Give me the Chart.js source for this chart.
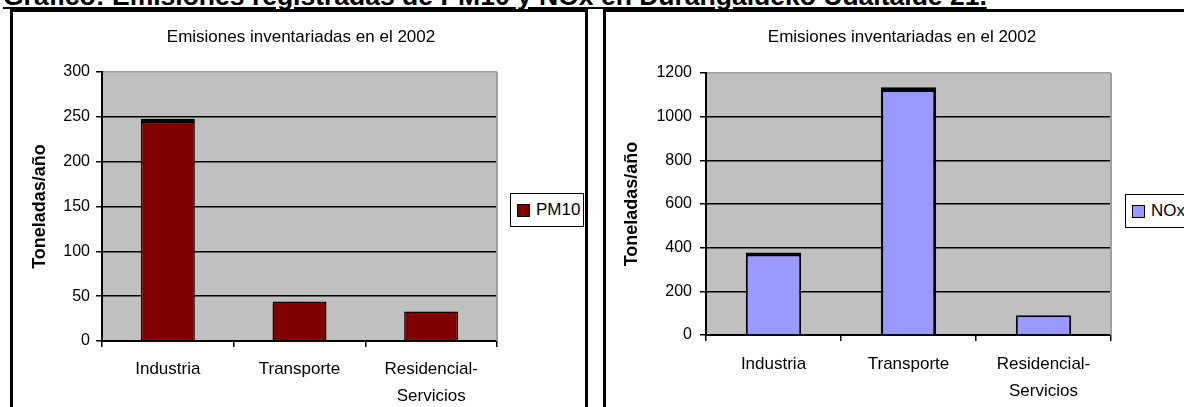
<!DOCTYPE html>
<html>
<head>
<meta charset="utf-8">
<script src="https://cdn.jsdelivr.net/npm/chart.js"></script>
<style>
  body { margin: 0; width: 1184px; height: 407px; overflow: hidden; background: #fff; position: relative;
         font-family: "Liberation Sans", Arial, sans-serif; color: #000; }
  .box { position: absolute; top: 9px; height: 500px; border: 3px solid #000; background: #fff; }
  #boxPm { left: 10px; width: 572px; }
  #boxNox { left: 603px; width: 600px; }
  .box canvas { position: absolute; left: 0; top: 0; }
  #heading { position: absolute; left: 3px; top: -17px; z-index: 3; font-size: 26.5px; font-weight: bold;
             line-height: 26px; text-decoration: underline; white-space: nowrap; }
  .ctitle { position: absolute; top: 27px; font-size: 17px; line-height: 20px; white-space: nowrap;
            transform: translateX(-50%); z-index: 2; }
  .legend { position: absolute; height: 32px; border: 1px solid #000; background: #fff; z-index: 2;
            display: flex; align-items: center; font-size: 17px; white-space: nowrap; }
  .legend .sw { width: 11px; height: 11px; border: 1px solid #000; margin: 0 6px 0 6px; }
</style>
</head>
<body>
<div id="boxPm" class="box"><canvas id="pm10-chart" width="572" height="395"></canvas></div>
<div id="boxNox" class="box"><canvas id="nox-chart" width="578" height="395"></canvas></div>
<div id="heading">Gráfico: Emisiones registradas de PM10 y NOx en Durangaldeko Udaltalde 21.</div>
<div class="ctitle" style="left:301px">Emisiones inventariadas en el 2002</div>
<div class="ctitle" style="left:902px">Emisiones inventariadas en el 2002</div>
<div id="legend-pm10" class="legend" style="left:510px; top:193px; width:72px;"></div>
<div id="legend-nox" class="legend" style="left:1125px; top:194px; width:80px;"></div>

<script>
// datos
const categories = [['Industria'], ['Transporte'], ['Residencial-', 'Servicios']];
const pm10Values = [248, 44, 33];
const noxValues = [378, 1135, 90];
const pm10Ticks = [0, 50, 100, 150, 200, 250, 300];
const noxTicks = [0, 200, 400, 600, 800, 1000, 1200];
const yTitle = 'Toneladas/año';

const plotBackground = {
    id: 'plotBackground',
    beforeDraw(chart) {
        const a = chart.chartArea;
        const ctx = chart.ctx;
        ctx.save();
        ctx.fillStyle = '#c0c0c0';
        ctx.fillRect(a.left, a.top, a.right - a.left, a.bottom - a.top);
        ctx.restore();
    },
    beforeDatasetsDraw(chart) {
        const a = chart.chartArea;
        const ctx = chart.ctx;
        ctx.save();
        ctx.strokeStyle = '#a0a0a0';
        ctx.lineWidth = 2;
        ctx.beginPath();
        ctx.moveTo(a.right, a.top);
        ctx.lineTo(a.right, a.bottom);
        ctx.stroke();
        ctx.restore();
    }
};

function makeLegend(id, label, color) {
    const box = document.getElementById(id);
    const sw = document.createElement('span');
    sw.className = 'sw';
    sw.style.background = color;
    box.appendChild(sw);
    box.appendChild(document.createTextNode(label));
}

function makeChart(id, label, values, color, borders, ticks, g) {
    const max = ticks[ticks.length - 1];
    const ctx = document.getElementById(id).getContext('2d');
    return new Chart(ctx, {
        type: 'bar',
        data: {
            labels: categories,
            datasets: [{
                label: label,
                data: values,
                backgroundColor: color,
                borderColor: '#000',
                borderWidth: borders,
                borderSkipped: 'start',
                barPercentage: 0.41,
                categoryPercentage: 1
            }]
        },
        options: {
            responsive: false,
            animation: false,
            layout: { padding: { top: g.top, right: g.right, left: 0, bottom: 0 } },
            plugins: { legend: { display: false }, tooltip: { enabled: false } },
            scales: {
                x: {
                    grid: { drawOnChartArea: false, offset: true, tickLength: 6, color: '#000', lineWidth: 1.5 },
                    border: { color: '#000', width: 2 },
                    ticks: { color: '#000', font: { size: 17, lineHeight: 1.6 }, padding: g.xPad,
                             maxRotation: 0, autoSkip: false },
                    afterFit: (s) => { s.height = g.xHeight; }
                },
                y: {
                    min: 0,
                    max: max,
                    afterBuildTicks: (s) => { s.ticks = ticks.map(v => ({ value: v })); },
                    grid: {
                        color: (c) => (c.tick && c.tick.value === max) ? '#a0a0a0' : '#000',
                        tickColor: '#000',
                        lineWidth: 1.5,
                        tickLength: 6
                    },
                    border: { color: '#000', width: 2 },
                    ticks: { color: '#000', font: { size: 16 }, padding: g.yPad,
                             callback: (v) => String(v) },
                    title: { display: true, text: yTitle, color: '#000',
                             font: { size: 18, weight: 'bold' }, padding: { top: g.titlePad, bottom: 0 } },
                    afterFit: (s) => { s.width = g.yWidth; }
                }
            }
        },
        plugins: [plotBackground]
    });
}

makeChart('pm10-chart', 'PM10', pm10Values, '#800000',
    [{ top: 5, left: 1.5, right: 1.5, bottom: 0 }, 1.5, 1.5],
    pm10Ticks,
    { top: 60, right: 88, xHeight: 66, xPad: 9, yWidth: 89, yPad: 6, titlePad: 16 });

makeChart('nox-chart', 'NOx', noxValues, '#9999ff',
    [{ top: 4, left: 2, right: 2, bottom: 0 }, { top: 5, left: 2.5, right: 3, bottom: 0 }, 2],
    noxTicks,
    { top: 61, right: 73, xHeight: 72, xPad: 10, yWidth: 100, yPad: 8, titlePad: 15 });

makeLegend('legend-pm10', 'PM10', '#800000');
makeLegend('legend-nox', 'NOx', '#9999ff');
</script>
</body>
</html>
